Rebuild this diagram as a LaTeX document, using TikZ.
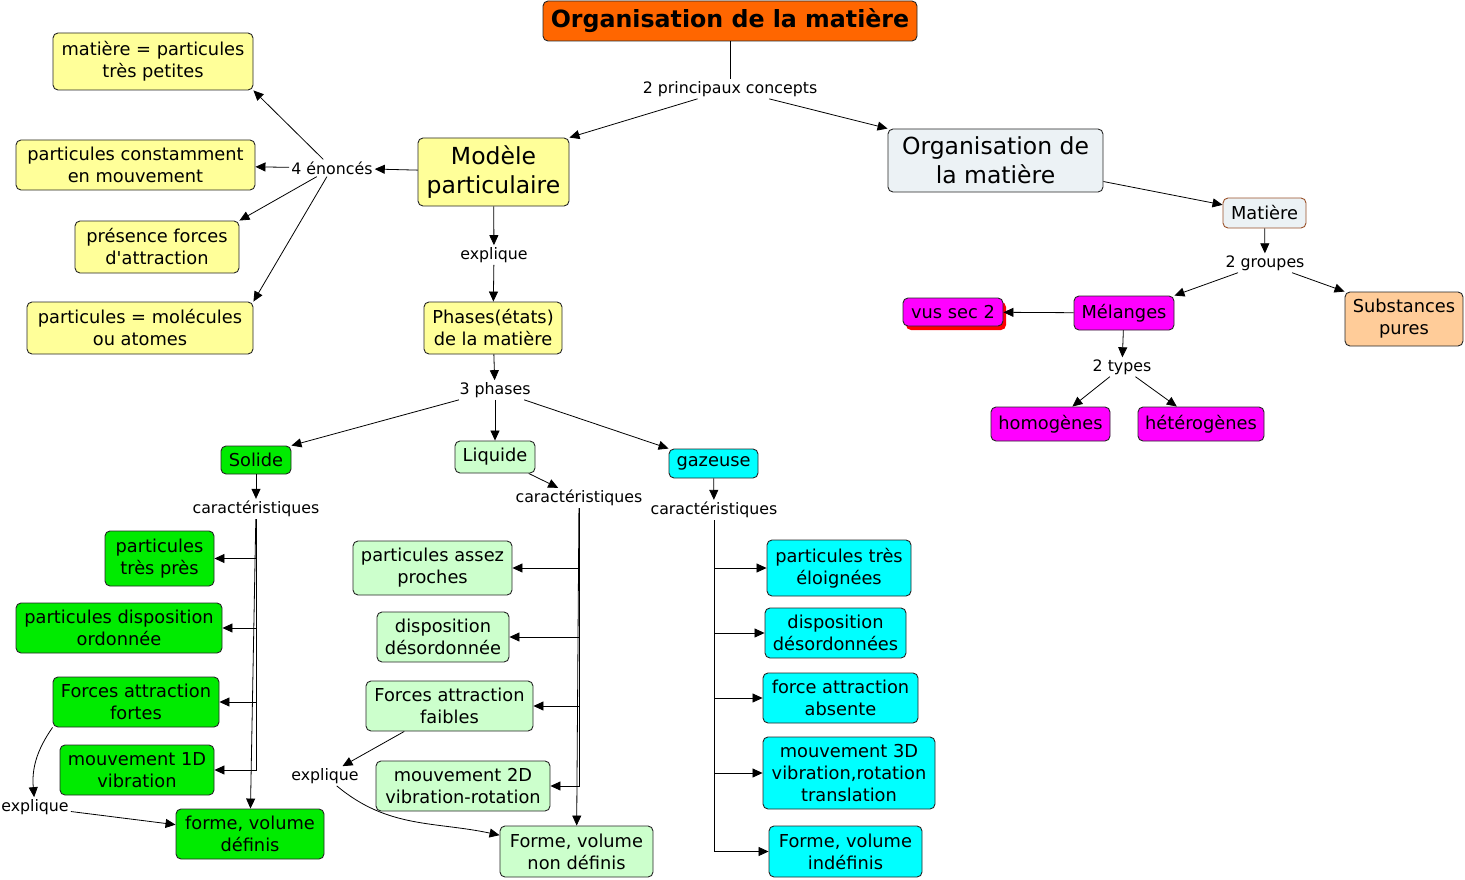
\documentclass[tikz,border=0pt]{standalone}
\usepackage{fontspec}
\setmainfont{DejaVu Sans}
\newfontfamily\droit{DejaVu Sans}
\usetikzlibrary{arrows.meta,shadows}

\definecolor{orange}{RGB}{255,102,0}
\definecolor{jaune}{RGB}{255,255,153}
\definecolor{grisbleu}{RGB}{236,242,245}
\definecolor{vert}{RGB}{0,235,0}
\definecolor{vertpale}{RGB}{204,255,204}
\definecolor{cyanvif}{RGB}{0,255,255}
\definecolor{magentavif}{RGB}{255,0,255}
\definecolor{peche}{RGB}{255,204,153}
\definecolor{brun}{RGB}{153,80,40}

\begin{document}
\begin{tikzpicture}[x=1pt,y=-1pt,
  concept/.style={draw=black!85,line width=0.9pt,rounded corners=5pt,align=center,inner sep=0pt,
    font=\fontsize{17.8}{22}\selectfont},
  bigconcept/.style={concept,font=\fontsize{23.5}{29}\selectfont},
  linkphrase/.style={inner sep=2pt,font=\fontsize{15.8}{19}\selectfont},
  dims/.style 2 args={minimum width=#1pt,minimum height=#2pt},
  arr/.style={-{Triangle[length=10pt,width=9pt]},line width=0.8pt}]
\useasboundingbox (0,0) rectangle (1465,880);

% concepts principaux
\node[concept,fill=orange,dims={374}{40},font=\fontsize{23.7}{29}\selectfont\bfseries] (titre) at (730,21) {Organisation de la matière};
\node[linkphrase] (concepts) at (730,89) {2 principaux concepts};
\node[bigconcept,fill=jaune,dims={151}{68}] (modele) at (493.5,172) {Modèle\\particulaire};
\node[bigconcept,fill=grisbleu,dims={215}{63}] (orga) at (995.5,160.5) {Organisation de\\la matière};

% 4 enonces
\node[linkphrase] (enonces) at (332,168) {4 énoncés};
\node[concept,fill=jaune,dims={200}{57}] (petites) at (153,61.5) {matière = particules\\très petites};
\node[concept,fill=jaune,dims={239}{50}] (mouvement) at (135.5,165) {particules constamment\\en mouvement};
\node[concept,fill=jaune,dims={164}{52}] (attraction) at (157,247) {présence forces\\d{\droit'}attraction};
\node[concept,fill=jaune,dims={226}{52}] (molecules) at (140,328) {particules = molécules\\ou atomes};

% phases
\node[linkphrase] (explique) at (494,255) {explique};
\node[concept,fill=jaune,dims={138}{52}] (phases) at (493,328) {Phases(états)\\de la matière};
\node[linkphrase] (troisph) at (495,390) {3 phases};
\node[concept,fill=vert,dims={70}{28}] (solide) at (256,460) {Solide};
\node[concept,fill=vertpale,dims={80}{32}] (liquide) at (495,457) {Liquide};
\node[concept,fill=cyanvif,dims={89}{29}] (gazeuse) at (713.5,463.5) {gazeuse};

% solide
\node[linkphrase] (carsol) at (256,509) {caractéristiques};
\node[concept,fill=vert,dims={109}{55}] (sol1) at (159.5,558.5) {particules\\très près};
\node[concept,fill=vert,dims={206}{50}] (sol2) at (119,628) {particules disposition\\ordonnée};
\node[concept,fill=vert,dims={166}{50}] (sol3) at (136,702) {Forces attraction\\fortes};
\node[concept,fill=vert,dims={154}{50}] (sol4) at (137,770) {mouvement 1D\\vibration};
\node[concept,fill=vert,dims={148}{50}] (sol5) at (250,834) {forme, volume\\définis};
\node[linkphrase] (explsol) at (35,807) {explique};

% liquide
\node[linkphrase] (carliq) at (579,498) {caractéristiques};
\node[concept,fill=vertpale,dims={159}{54}] (liq1) at (432.5,568) {particules assez\\proches};
\node[concept,fill=vertpale,dims={132}{50}] (liq2) at (443,637) {disposition\\désordonnée};
\node[concept,fill=vertpale,dims={167}{50}] (liq3) at (449.5,706) {Forces attraction\\faibles};
\node[concept,fill=vertpale,dims={174}{50}] (liq4) at (463,786) {mouvement 2D\\vibration-rotation};
\node[concept,fill=vertpale,dims={153}{51}] (liq5) at (576.5,851.5) {Forme, volume\\non définis};
\node[linkphrase] (explliq) at (325,776) {explique};

% gazeuse
\node[linkphrase] (cargaz) at (714,510) {caractéristiques};
\node[concept,fill=cyanvif,dims={144}{56}] (gaz1) at (839,568) {particules très\\éloignées};
\node[concept,fill=cyanvif,dims={141}{50}] (gaz2) at (835.5,633) {disposition\\désordonnées};
\node[concept,fill=cyanvif,dims={155}{50}] (gaz3) at (840.5,698) {force attraction\\absente};
\node[concept,fill=cyanvif,dims={172}{72}] (gaz4) at (849,773) {mouvement 3D\\vibration,rotation\\translation};
\node[concept,fill=cyanvif,dims={153}{51}] (gaz5) at (845.5,851.5) {Forme, volume\\indéfinis};

% matiere
\node[concept,fill=grisbleu,draw=brun,dims={83}{30}] (matiere) at (1264.5,213) {Matière};
\node[linkphrase] (groupes) at (1265,263) {2 groupes};
\node[concept,fill=magentavif,dims={100}{34}] (melanges) at (1124,313) {Mélanges};
\node[concept,fill=peche,dims={118}{54}] (substances) at (1404,319) {Substances\\pures};
\node[concept,fill=magentavif,dims={100}{28},
  drop shadow={shadow xshift=3pt,shadow yshift=-4pt,fill=red,opacity=1}] (vussec) at (953,312) {vus sec 2};
\node[linkphrase] (types) at (1122,367) {2 types};
\node[concept,fill=magentavif,dims={119}{34}] (homogenes) at (1050.5,424) {homogènes};
\node[concept,fill=magentavif,dims={126}{34}] (heterogenes) at (1201,424) {hétérogènes};

% liens
\draw[line width=0.8pt] (titre) -- (concepts);
\draw[arr] (concepts) -- (modele.north east);
\draw[arr] (concepts) -- (orga.north west);
\draw[arr] (modele) -- (enonces);
\draw[arr] (enonces) -- (petites.south east);
\draw[arr] (enonces) -- (mouvement);
\draw[arr] (enonces) -- (attraction.north east);
\draw[arr] (enonces) -- (molecules.north east);
\draw[arr] (modele) -- (explique);
\draw[arr] (explique) -- (phases);
\draw[arr] (phases) -- (troisph);
\draw[arr] (troisph) -- (solide.north east);
\draw[arr] (troisph) -- (liquide);
\draw[arr] (troisph) -- (gazeuse.north west);

\draw[arr] (solide) -- (carsol);
\foreach \n in {sol1,sol2,sol3,sol4}
  \draw[arr] (carsol) |- (\n);
\draw[arr] (carsol) -- (sol5);
\draw[arr] (sol3.south west) to[out=-125,in=95] (explsol);
\draw[arr] (explsol) -- (sol5);

\draw[arr] (liquide) -- (carliq);
\foreach \n in {liq1,liq2,liq3,liq4}
  \draw[arr] (carliq) |- (\n);
\draw[arr] (carliq) -- (liq5);
\draw[arr] (liq3) -- (explliq);
\draw[arr] (explliq) to[out=-40,in=168] (liq5);

\draw[arr] (gazeuse) -- (cargaz);
\foreach \n in {gaz1,gaz2,gaz3,gaz4,gaz5}
  \draw[arr] (cargaz) |- (\n);

\draw[arr] (orga) -- (matiere);
\draw[arr] (matiere) -- (groupes);
\draw[arr] (groupes) -- (melanges.north east);
\draw[arr] (groupes) -- (substances.north west);
\draw[arr] (melanges) -- (vussec);
\draw[arr] (melanges) -- (types);
\draw[arr] (types) -- (homogenes);
\draw[arr] (types) -- (heterogenes);
\end{tikzpicture}
\end{document}
